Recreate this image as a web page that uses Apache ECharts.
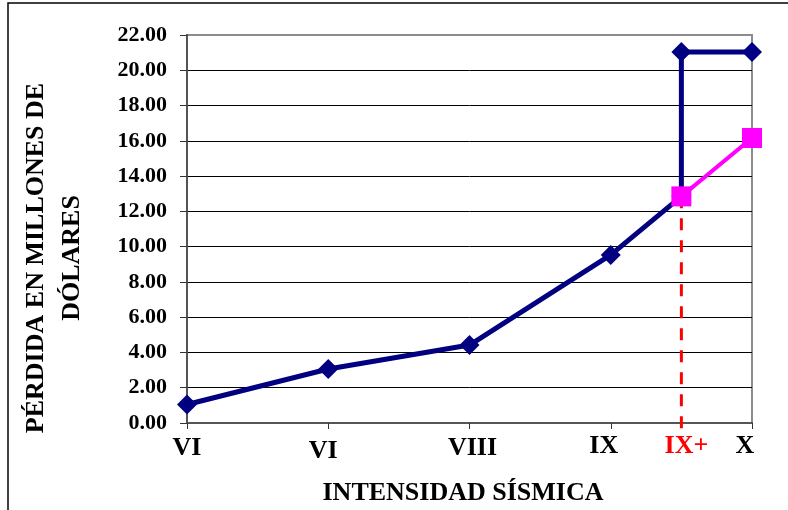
<!DOCTYPE html>
<html>
<head>
<meta charset="utf-8">
<script src="https://cdn.jsdelivr.net/npm/echarts@6/dist/echarts.min.js"></script>
<style>html,body{margin:0;padding:0;background:#fff}#c{width:788px;height:510px}</style>
</head>
<body>
<div id="c"></div>
<script>
// ---- data ----
const xPositions = [0, 1, 2, 3, 3.5, 4];
const tickLabels = ['VI', 'VI', 'VIII', 'IX', 'IX+', 'X'];
const tickPositions = [0, 1, 2, 3, 4];
const lossBase = [1.05, 3.06, 4.42, 9.53, 12.85];       // VI..IX+ (navy)
const lossUpperX = [3.5, 4];
const lossUpper = [21.04, 21.04];                        // navy upper branch
const lossAltX = [3.5, 4];
const lossAlt = [12.85, 16.16];                          // magenta branch
const dropLineX = 3.5;
const dropLineFrom = 12.85;
const dropLineTo = -0.5;
const yTicks = { min: 0, max: 22, interval: 2 };

// ---- build ----
const navyData = lossBase.map((v, i) => [xPositions[i], v])
  .concat(lossUpperX.map((x, i) => [x, lossUpper[i]]));
const magentaData = lossAltX.map((x, i) => [x, lossAlt[i]]);
const dropData = [[dropLineX, dropLineFrom], [dropLineX, dropLineTo]];

const labelStyleKeys = ['a', 'b', 'c', 'd', 'e', 'f'];
const labelMap = {};
xPositions.forEach((x, i) => { labelMap[x] = '{' + labelStyleKeys[i] + '|' + tickLabels[i] + '}'; });

const serif = 'Liberation Serif';
const base = { fontFamily: serif, fontWeight: 'bold', fontSize: 26, color: '#000' };

const chart = echarts.init(document.getElementById('c'), null, { renderer: 'canvas' });
chart.setOption({
  animation: false,
  backgroundColor: '#fff',
  grid: { left: 187, right: 36, top: 35, bottom: 87, show: true, borderColor: '#8c8c8c', borderWidth: 2, backgroundColor: 'transparent' },
  xAxis: {
    type: 'value', min: 0, max: 4, interval: 0.5,
    axisLine: { show: true, lineStyle: { color: '#555', width: 2 } },
    axisTick: { show: true, customValues: tickPositions, length: 6, lineStyle: { color: '#333', width: 1 } },
    splitLine: { show: false },
    axisLabel: {
      customValues: xPositions,
      margin: 10,
      formatter: v => labelMap[v] || '',
      rich: {
        a: Object.assign({}, base, { padding: [2, 0, 0, 0] }),
        b: Object.assign({}, base, { padding: [5, 10, 0, 0] }),
        c: Object.assign({}, base, { padding: [2, 0, 0, 6] }),
        d: Object.assign({}, base, { padding: [0, 14, 0, 0] }),
        e: Object.assign({}, base, { padding: [0, 0, 0, 10], color: '#ff0000' }),
        f: Object.assign({}, base, { padding: [0, 14, 0, 0] })
      }
    }
  },
  yAxis: {
    type: 'value', min: yTicks.min, max: yTicks.max, interval: yTicks.interval,
    axisLine: { show: true, lineStyle: { color: '#555', width: 2 } },
    axisTick: { show: true, length: 7, lineStyle: { color: '#333', width: 1 } },
    splitLine: { show: true, showMinLine: false, showMaxLine: false, lineStyle: { color: '#000', width: 1 } },
    axisLabel: { margin: 20, fontFamily: serif, fontWeight: 'bold', fontSize: 22, color: '#000', formatter: v => v.toFixed(2) }
  },
  series: [
    { type: 'line', data: dropData, clip: false, symbol: 'none', z: 2,
      lineStyle: { color: '#ff0000', width: 3, type: [12, 10] } },
    { type: 'line', data: navyData, symbol: 'diamond', symbolSize: 20, showAllSymbol: true, z: 3,
      lineStyle: { color: '#000080', width: 5 }, itemStyle: { color: '#000080' } },
    { type: 'line', data: magentaData, symbol: 'rect', symbolSize: 20, showAllSymbol: true, z: 4,
      lineStyle: { color: '#ff00ff', width: 4 }, itemStyle: { color: '#ff00ff' } }
  ],
  graphic: [
    { type: 'rect', shape: { x: 8, y: 3, width: 820, height: 540 }, style: { fill: 'none', stroke: '#000', lineWidth: 1.5 }, z: 10 },
    { type: 'text', x: 54, y: 258, rotation: Math.PI / 2,
      style: { text: 'PÉRDIDA EN MILLONES DE\nDÓLARES', font: 'bold 26px "Liberation Serif"', fill: '#000', align: 'center', verticalAlign: 'middle', lineHeight: 36 } },
    { type: 'text', x: 463, y: 493,
      style: { text: 'INTENSIDAD SÍSMICA', font: 'bold 26px "Liberation Serif"', fill: '#000', align: 'center', verticalAlign: 'middle' } }
  ]
});
</script>
</body>
</html>
